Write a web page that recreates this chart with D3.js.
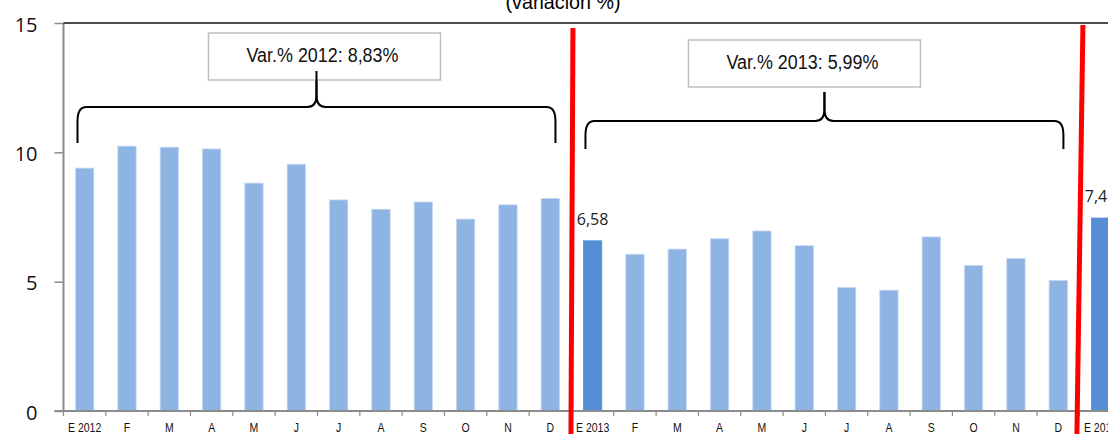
<!DOCTYPE html>
<html>
<head>
<meta charset="utf-8">
<script src="https://cdn.jsdelivr.net/npm/d3@7"></script>
<style>
  body { margin: 0; background: #fff; }
  svg { display: block; }
</style>
</head>
<body>
<script>
// monthly rate of change (%), Jan 2012 .. Jan 2014
var months = ["E 2012","F","M","A","M","J","J","A","S","O","N","D",
              "E 2013","F","M","A","M","J","J","A","S","O","N","D",
              "E 2014"];
var values = [9.39, 10.24, 10.20, 10.13, 8.81, 9.54, 8.16, 7.80, 8.08, 7.42, 7.97, 8.22,
              6.58, 6.06, 6.26, 6.66, 6.96, 6.39, 4.78, 4.67, 6.73, 5.63, 5.90, 5.05,
              7.46];
var labelled = [12, 24];
var labelText = ["6,58", "7,46"];
var yTicks = [0, 5, 10, 15];
var yearBreaks = [12, 24];
var yearGroups = [[0, 11], [12, 23]];
var yearText = ["Var.% 2012: 8,83%", "Var.% 2013: 5,99%"];
var title = "(variación %)";

function init(){
    var w = 1108, h = 434;
    var left = 63.5, step = 42.33;
    var y0 = 411, y1 = 23;

    var svg = d3.select("body").append("svg")
        .attr("width", w).attr("height", h);

    var xScale = d3.scaleBand()
        .domain(d3.range(months.length))
        .range([left, left + step * months.length])
        .paddingInner(0.567)
        .paddingOuter(0.2835);
    var yScale = d3.scaleLinear().domain([0, 15]).range([y0, y1]);
    var bw = xScale.bandwidth();
    var gap = xScale.step() * 0.567 / 2;

    // title (cut at the top)
    svg.append("text")
        .attr("x", 563).attr("y", 9)
        .attr("text-anchor", "middle")
        .attr("font-family", "Liberation Sans, Arial, sans-serif")
        .attr("font-size", 20)
        .attr("textLength", 115).attr("lengthAdjust", "spacingAndGlyphs")
        .text(title);

    // bars
    svg.selectAll("rect.bar")
        .data(values)
        .enter()
        .append("rect")
        .attr("class", "bar")
        .attr("x", function(d, i){ return xScale(i); })
        .attr("y", function(d){ return yScale(d); })
        .attr("width", bw)
        .attr("height", function(d){ return y0 - yScale(d); })
        .attr("fill", function(d, i){ return labelled.indexOf(i) >= 0 ? "#558ED5" : "#8EB4E3"; })
        .attr("stroke", function(d, i){ return labelled.indexOf(i) >= 0 ? "#558ED5" : "#C6D9F1"; })
        .attr("stroke-width", 0.8);

    // data labels
    svg.selectAll("text.lbl")
        .data(labelled)
        .enter()
        .append("text")
        .attr("class", "lbl")
        .attr("x", function(i){ return xScale(i) + bw / 2; })
        .attr("y", function(i){ return yScale(values[i]) - 16; })
        .attr("text-anchor", "middle")
        .attr("font-family", "Open Sans, sans-serif")
        .attr("font-size", 16)
        .attr("fill", "#222")
        .text(function(d, k){ return labelText[k]; });

    // y axis
    var yAxis = d3.axisLeft(yScale)
        .tickValues(yTicks)
        .tickSize(9)
        .tickPadding(17)
        .tickFormat(d3.format("d"));
    var gy = svg.append("g")
        .attr("transform", "translate(" + left + ",0)")
        .call(yAxis);
    gy.select(".domain").attr("stroke", "#8c8c8c").attr("stroke-width", 2)
        .attr("d", "M0," + y1 + "V" + y0);
    gy.selectAll(".tick line").attr("stroke", "#8c8c8c").attr("stroke-width", 1.5);
    gy.selectAll(".tick text")
        .attr("font-family", "Open Sans, sans-serif")
        .attr("font-size", 20)
        .attr("fill", "#111")
        .attr("dy", "0.4em");

    // top border
    svg.append("line")
        .attr("x1", left).attr("x2", w)
        .attr("y1", y1).attr("y2", y1)
        .attr("stroke", "#111").attr("stroke-width", 1.5);

    // x axis
    var xAxis = d3.axisBottom(xScale)
        .tickSize(0)
        .tickPadding(12)
        .tickFormat(function(i){ return months[i]; });
    var gx = svg.append("g")
        .attr("transform", "translate(0," + y0 + ")")
        .call(xAxis);
    gx.select(".domain").attr("stroke", "#8c8c8c").attr("stroke-width", 2)
        .attr("d", "M" + (left - 9) + ",0H" + w);
    gx.selectAll(".tick text")
        .attr("font-family", "Liberation Sans, Arial, sans-serif")
        .attr("font-size", 12.5)
        .attr("fill", "#111")
        .attr("transform", "scale(0.84,1)");

    // small ticks between categories
    svg.selectAll("line.xt")
        .data(d3.range(months.length))
        .enter()
        .append("line")
        .attr("class", "xt")
        .attr("x1", function(i){ return xScale(i) - gap; })
        .attr("x2", function(i){ return xScale(i) - gap; })
        .attr("y1", y0).attr("y2", y0 + 5)
        .attr("stroke", "#8c8c8c").attr("stroke-width", 1.2);

    // brackets with boxes
    var boxes = [
        {yh: 107, yb: 143, yt: 71, bx: 8, btop: 33},
        {yh: 121, yb: 149, yt: 92, bx: -20, btop: 40}
    ];
    yearGroups.forEach(function(g, k){
        var b = boxes[k];
        var x0 = xScale(g[0]) + 2;
        var x1 = xScale(g[1]) + bw - 4;
        var xm = (x0 + x1) / 2;
        var p = d3.path();
        p.moveTo(x0, b.yb);
        p.lineTo(x0, b.yh + 14);
        p.quadraticCurveTo(x0, b.yh, x0 + 9, b.yh);
        p.lineTo(xm - 9, b.yh);
        p.quadraticCurveTo(xm, b.yh, xm, b.yh - 12);
        p.lineTo(xm, b.yt);
        p.moveTo(xm, b.yh - 12);
        p.quadraticCurveTo(xm, b.yh, xm + 9, b.yh);
        p.lineTo(x1 - 9, b.yh);
        p.quadraticCurveTo(x1, b.yh, x1, b.yh + 14);
        p.lineTo(x1, b.yb);
        svg.append("path")
            .attr("d", p.toString())
            .attr("fill", "none")
            .attr("stroke", "#000")
            .attr("stroke-width", 2);

        var cx = xm + b.bx;
        svg.append("rect")
            .attr("x", cx - 116).attr("y", b.btop)
            .attr("width", 232).attr("height", 47)
            .attr("fill", "#fff")
            .attr("stroke", "#bfbfbf").attr("stroke-width", 1.5);
        svg.append("text")
            .attr("x", cx - 2).attr("y", b.btop + 29)
            .attr("text-anchor", "middle")
            .attr("font-family", "Liberation Sans, Arial, sans-serif")
            .attr("font-size", 20)
            .attr("fill", "#111")
            .attr("textLength", 152).attr("lengthAdjust", "spacingAndGlyphs")
            .text(yearText[k]);
    });
    // re-draw the brace tips over the box border
    yearGroups.forEach(function(g, k){
        var b = boxes[k];
        var xm = (xScale(g[0]) + 2 + xScale(g[1]) + bw - 4) / 2;
        svg.append("line")
            .attr("x1", xm).attr("x2", xm)
            .attr("y1", b.yt).attr("y2", b.yh - 10)
            .attr("stroke", "#000").attr("stroke-width", 2);
    });

    // red year separators
    var tops = [28, 25];
    var lean = [1, 5];
    svg.selectAll("line.sep")
        .data(yearBreaks)
        .enter()
        .append("line")
        .attr("class", "sep")
        .attr("x1", function(i, k){ return xScale(i) - gap + 1 + lean[k] / 2; })
        .attr("x2", function(i, k){ return xScale(i) - gap + 1 - lean[k] / 2 - 1; })
        .attr("y1", function(i, k){ return tops[k]; })
        .attr("y2", h)
        .attr("stroke", "#FF0000")
        .attr("stroke-width", 5);
}
window.onload = init;
</script>
</body>
</html>
